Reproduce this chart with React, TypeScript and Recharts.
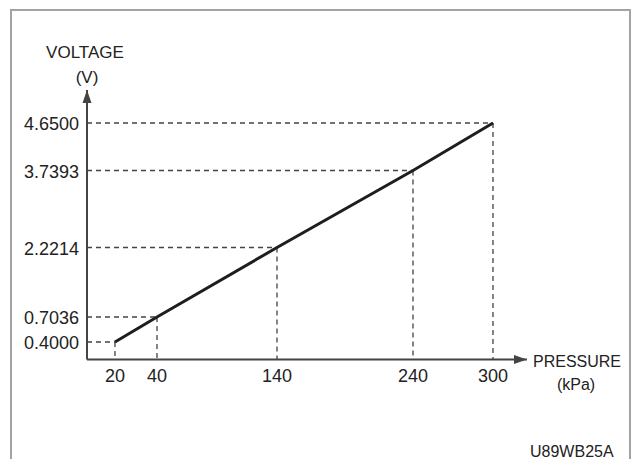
import React from "react";
import {
  LineChart,
  Line,
  XAxis,
  YAxis,
  ReferenceLine,
  ReferenceDot,
} from "recharts";

// Pressure (kPa) values at the marked points
const pressureValues = [20, 40, 140, 240, 300];
// Output voltage (V) at those pressures
const voltageValues = [0.4, 0.7036, 2.2214, 3.7393, 4.65];
// Tick labels
const pressureTicks = [20, 40, 140, 240, 300];
const voltageTicks = [0.4, 0.7036, 2.2214, 3.7393, 4.65];

// Axis extents (origin and arrow tips)
const X_MIN = 0;
const X_MAX = 320;
const Y_MIN = 0;
const Y_MAX = 5.5;

// The original is a schematic: its axes are drawn piecewise, not to a uniform scale.
// Breakpoints (axis values) and where each sits along the axis (0 = origin, 1 = arrow tip).
const xAxisBreaks = [X_MIN, 20, 40, 140, 240, 300, X_MAX];
const xAxisStops = [0, 0.0636, 0.1591, 0.4318, 0.7409, 0.9227, 1];
const yAxisBreaks = [Y_MIN, 0.4, 0.7036, 2.2214, 3.7393, 4.65, Y_MAX];
const yAxisStops = [0, 0.0649, 0.1577, 0.4156, 0.7013, 0.8776, 1];

function piecewiseScale(breaks: number[], stops: number[]): any {
  let dom: number[] = [breaks[0], breaks[breaks.length - 1]];
  let rng: number[] = [0, 1];
  const scale: any = (v: number) => {
    if (v == null || isNaN(v)) return undefined;
    let i = 0;
    while (i < breaks.length - 2 && v > breaks[i + 1]) i++;
    const f = stops[i] + ((v - breaks[i]) / (breaks[i + 1] - breaks[i])) * (stops[i + 1] - stops[i]);
    return rng[0] + f * (rng[1] - rng[0]);
  };
  scale.domain = (d?: number[]) => {
    if (d === undefined) return dom.slice();
    dom = d.slice();
    return scale;
  };
  scale.range = (r?: number[]) => {
    if (r === undefined) return rng.slice();
    rng = r.slice();
    return scale;
  };
  scale.copy = () => piecewiseScale(breaks, stops).domain(dom).range(rng);
  scale.ticks = () => breaks.slice(1, -1);
  scale.tickFormat = () => (v: number) => String(v);
  scale.invert = (px: number) => {
    const f = (px - rng[0]) / (rng[1] - rng[0]);
    let i = 0;
    while (i < stops.length - 2 && f > stops[i + 1]) i++;
    return breaks[i] + ((f - stops[i]) / (stops[i + 1] - stops[i])) * (breaks[i + 1] - breaks[i]);
  };
  scale.clamp = () => scale;
  scale.nice = () => scale;
  return scale;
}

const xScale = piecewiseScale(xAxisBreaks, xAxisStops);
const yScale = piecewiseScale(yAxisBreaks, yAxisStops);

const data = pressureValues.map((p, i) => ({ pressure: p, voltage: voltageValues[i] }));

const FONT = '"Liberation Sans", Arial, Helvetica, sans-serif';
const TEXT = "#222";
const AXIS = "#444";
const DASH = "#444";

const UpArrow = (props: any) => {
  const { cx, cy } = props;
  return <path d={`M${cx},${cy} L${cx - 4.5},${cy + 13} L${cx + 4.5},${cy + 13} Z`} fill={AXIS} />;
};
const RightArrow = (props: any) => {
  const { cx, cy } = props;
  return <path d={`M${cx},${cy} L${cx - 13},${cy - 4.5} L${cx - 13},${cy + 4.5} Z`} fill={AXIS} />;
};

export default function App() {
  return (
    <div style={{ position: "absolute", left: 0, top: 0, width: 632, height: 459, background: "#fff", fontFamily: FONT }}>
      <svg width={632} height={459} style={{ position: "absolute", left: 0, top: 0 }}>
        <rect x={11} y={10} width={619} height={470} fill="#fff" stroke="#a3a3a3" strokeWidth={2} />
      </svg>
      <div style={{ position: "absolute", left: 0, top: 0 }}>
        <LineChart
          width={632}
          height={459}
          data={data}
          margin={{ top: 90, right: 105, left: 0, bottom: 0 }}
        >
          <XAxis
            dataKey="pressure"
            type="number"
            scale={xScale}
            domain={[X_MIN, X_MAX]}
            allowDataOverflow
            ticks={pressureTicks}
            height={99.5}
            tickLine={false}
            tickSize={0}
            tickMargin={9.5}
            axisLine={{ stroke: AXIS, strokeWidth: 2 }}
            tick={{ fill: TEXT, fontSize: 18, fontFamily: FONT }}
            interval={0}
          />
          <YAxis
            type="number"
            scale={yScale}
            domain={[Y_MIN, Y_MAX]}
            allowDataOverflow
            ticks={voltageTicks}
            tickFormatter={(v: number) => v.toFixed(4)}
            width={87}
            tickLine={false}
            tickSize={0}
            tickMargin={8}
            axisLine={{ stroke: AXIS, strokeWidth: 2 }}
            tick={{ fill: TEXT, fontSize: 18, fontFamily: FONT, dy: 1 }}
            interval={0}
          />
          {pressureValues.map((p, i) => (
            <ReferenceLine
              key={`h${i}`}
              segment={[
                { x: X_MIN, y: voltageValues[i] },
                { x: p, y: voltageValues[i] },
              ]}
              stroke={DASH}
              strokeWidth={1.3}
              strokeDasharray="5 4"
              ifOverflow="visible"
            />
          ))}
          {pressureValues.map((p, i) => (
            <ReferenceLine
              key={`v${i}`}
              segment={[
                { x: p, y: voltageValues[i] },
                { x: p, y: Y_MIN },
              ]}
              stroke={DASH}
              strokeWidth={1.3}
              strokeDasharray="5 4"
              ifOverflow="visible"
            />
          ))}
          <Line
            dataKey="voltage"
            stroke="#1e1e1e"
            strokeWidth={3}
            dot={false}
            isAnimationActive={false}
          />
          <ReferenceDot x={X_MIN} y={Y_MAX} ifOverflow="visible" shape={UpArrow} />
          <ReferenceDot x={X_MAX} y={Y_MIN} ifOverflow="visible" shape={RightArrow} />
        </LineChart>
      </div>
      <svg width={632} height={459} style={{ position: "absolute", left: 0, top: 0, pointerEvents: "none" }}>
        <g fontFamily={FONT} fill={TEXT}>
          <text x={85} y={58} fontSize={17} textAnchor="middle">VOLTAGE</text>
          <text x={87} y={83} fontSize={17} textAnchor="middle">(V)</text>
          <text x={533} y={367} fontSize={16}>PRESSURE</text>
          <text x={576} y={390} fontSize={16} textAnchor="middle">(kPa)</text>
          <text x={530} y={457} fontSize={16}>U89WB25A</text>
        </g>
      </svg>
    </div>
  );
}
